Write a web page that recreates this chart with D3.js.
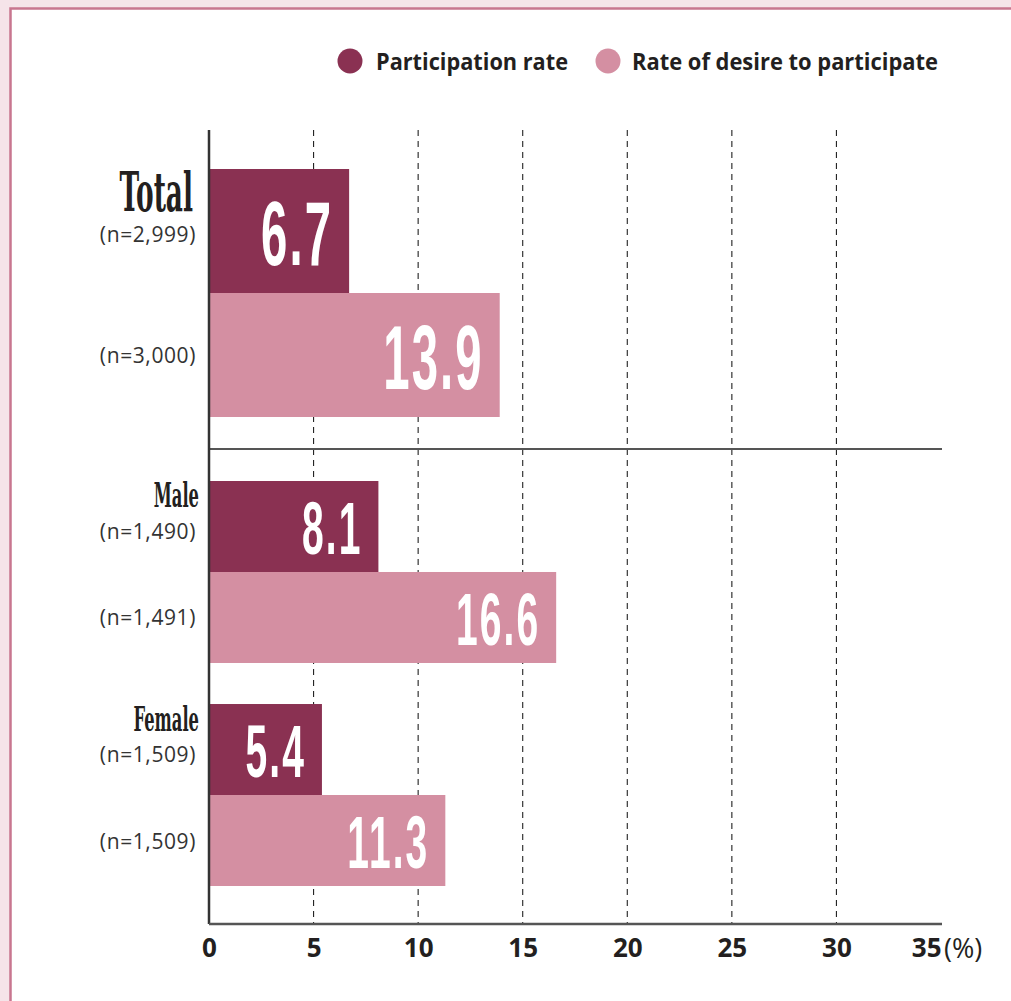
<!DOCTYPE html>
<html><head><meta charset="utf-8">
<script src="https://cdn.jsdelivr.net/npm/d3@7"></script>
<style>body{margin:0;background:#f5e4e9}svg{display:block}</style>
</head><body><svg id="chart" width="1011" height="1001"></svg>
<script>
// ---- data ----
const groups = ["Total", "Male", "Female"];
const seriesNames = ["Participation rate", "Rate of desire to participate"];
const participation = [6.7, 8.1, 5.4];
const desire = [13.9, 16.6, 11.3];
const nParticipation = ["(n=2,999)", "(n=1,490)", "(n=1,509)"];
const nDesire = ["(n=3,000)", "(n=1,491)", "(n=1,509)"];
const xTicks = [0, 5, 10, 15, 20, 25, 30, 35];
const unitLabel = "(%)";

// ---- style / layout ----
const colors = ["#8a3152", "#d48fa2"];
const textDark = "#231f20";
const W = 1011, H = 1001;
const sections = [
  { groups: ["Total"], range: [169, 417], pad: 0, valueFont: 91, catFont: 55, catX: 193, catDy: -20, nDy: 11 },
  { groups: ["Male", "Female"], range: [481, 886], pad: 0.184, valueFont: 75, catFont: 34, catX: 199, catDy: -19, nDy: 12.5 }
];

const svg = d3.select("#chart");
// frame
svg.append("rect").attr("width", W).attr("height", H).attr("fill", "#f5e4e9");
svg.append("rect").attr("x", 11).attr("y", 9).attr("width", W).attr("height", H).attr("fill", "#fff");
svg.append("path").attr("d", `M10.5,${H} V8.5 H${W}`).attr("fill", "none")
  .attr("stroke", "#c8768f").attr("stroke-width", 2.5);

const x = d3.scaleLinear().domain([0, 35]).range([209, 941]);
const plotTop = 130, plotBottom = 924;

// grid lines
svg.append("g").selectAll("line").data(xTicks.filter(t => t > 0 && t < 35)).join("line")
  .attr("x1", d => x(d)).attr("x2", d => x(d))
  .attr("y1", plotTop).attr("y2", plotBottom)
  .attr("stroke", "#222").attr("stroke-width", 1.1).attr("stroke-dasharray", "6,5");

// build rows
const rows = [];
sections.forEach(sec => {
  const outer = d3.scaleBand().domain(sec.groups).range(sec.range).paddingInner(sec.pad);
  const inner = d3.scaleBand().domain(seriesNames).range([0, outer.bandwidth()]);
  sec.groups.forEach(g => {
    const gi = groups.indexOf(g);
    [participation[gi], desire[gi]].forEach((v, si) => {
      rows.push({ group: g, gi, si, value: v, y: outer(g) + inner(seriesNames[si]), h: inner.bandwidth(), sec,
        n: si === 0 ? nParticipation[gi] : nDesire[gi] });
    });
  });
});

// bars
svg.append("g").selectAll("rect").data(rows).join("rect")
  .attr("x", x(0)).attr("y", d => d.y)
  .attr("width", d => x(d.value) - x(0)).attr("height", d => d.h)
  .attr("fill", d => colors[d.si]);

// value labels
svg.append("g").selectAll("text").data(rows).join("text")
  .attr("transform", d => `translate(${x(d.value) - 16},${d.y + d.h / 2 + d.sec.valueFont * 0.716 / 2 + 1}) scale(0.52,1)`)
  .attr("text-anchor", "end")
  .attr("font-family", "'Liberation Sans', Arial, sans-serif")
  .attr("font-weight", 700)
  .attr("font-size", d => d.sec.valueFont)
  .attr("letter-spacing", 4)
  .attr("fill", "#fff")
  .text(d => d.value.toFixed(1));

// category labels
const catRows = rows.filter(d => d.si === 0);
svg.append("g").selectAll("text").data(catRows).join("text")
  .attr("transform", d => `translate(${d.sec.catX},${d.y + d.h / 2 + d.sec.catDy}) scale(0.48,1)`)
  .attr("text-anchor", "end")
  .attr("font-family", "'DejaVu Serif', serif")
  .attr("font-weight", 700)
  .attr("font-size", d => d.sec.catFont)
  .attr("fill", textDark)
  .text(d => d.group);

// n labels
svg.append("g").selectAll("text").data(rows).join("text")
  .attr("x", 196)
  .attr("y", d => d.y + d.h / 2 + (d.si === 0 ? d.sec.nDy : 8))
  .attr("text-anchor", "end")
  .attr("font-family", "'Open Sans', sans-serif")
  .attr("font-size", 21)
  .attr("letter-spacing", 0.6)
  .attr("fill", "#333")
  .text(d => d.n);

// separator
const sepY = (sections[0].range[1] + sections[1].range[0]) / 2;
svg.append("line").attr("x1", x(0)).attr("x2", x(35) + 1).attr("y1", sepY).attr("y2", sepY)
  .attr("stroke", "#555").attr("stroke-width", 2);

// left axis line
svg.append("line").attr("x1", x(0)).attr("x2", x(0)).attr("y1", plotTop).attr("y2", plotBottom)
  .attr("stroke", "#333").attr("stroke-width", 2.5);

// bottom axis
const axis = d3.axisBottom(x).tickValues(xTicks).tickSize(0).tickSizeOuter(0).tickPadding(14.5).tickFormat(d3.format("d"));
const ax = svg.append("g").attr("transform", `translate(0,${plotBottom})`).call(axis);
ax.select(".domain").attr("stroke", "#555").attr("stroke-width", 2.5).attr("d", `M${x(0)},0H${x(35) + 1}`);
ax.selectAll("text").attr("font-family", "'Open Sans', sans-serif").attr("font-weight", 700)
  .attr("font-size", 26).attr("fill", textDark);
ax.selectAll(".tick").filter(d => d === 35).select("text").attr("text-anchor", "end");
ax.append("text").attr("x", x(35) + 3).attr("y", 14.5).attr("dy", "0.71em")
  .attr("text-anchor", "start").attr("font-family", "'Open Sans', sans-serif")
  .attr("font-size", 27).attr("fill", textDark).text(unitLabel);

// legend
const legendItems = [
  { cx: 350, tx: 376, len: 192 },
  { cx: 608, tx: 632, len: 306 }
];
const lg = svg.append("g");
legendItems.forEach((it, i) => {
  lg.append("circle").attr("cx", it.cx).attr("cy", 61).attr("r", 12.5).attr("fill", colors[i]);
  lg.append("text").attr("x", it.tx).attr("y", 70)
    .attr("font-family", "'Open Sans', sans-serif").attr("font-weight", 700)
    .attr("font-size", 24).attr("fill", textDark)
    .attr("textLength", it.len).attr("lengthAdjust", "spacingAndGlyphs")
    .text(seriesNames[i]);
});
</script></body></html>
